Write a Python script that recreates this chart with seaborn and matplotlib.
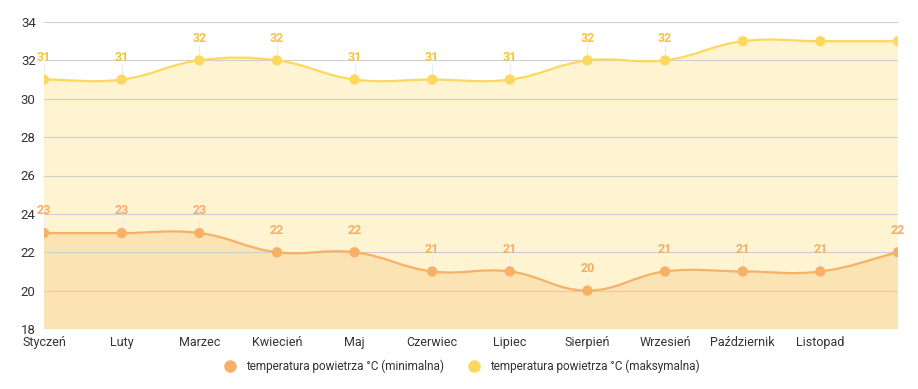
#
## plot.py
#
#  Monthly air temperature (min / max) as smooth filled area lines.
#

import numpy as np
import pandas as pd
import matplotlib.pyplot as plt
import seaborn as sns
from matplotlib.path import Path
from matplotlib.patches import PathPatch
from matplotlib.lines import Line2D

months = ['Styczeń', 'Luty', 'Marzec', 'Kwiecień', 'Maj', 'Czerwiec', 'Lipiec',
          'Sierpień', 'Wrzesień', 'Październik', 'Listopad', 'Grudzień']
temp_min = [23, 23, 23, 22, 22, 21, 21, 20, 21, 21, 21, 22]
temp_max = [31, 31, 32, 32, 31, 31, 31, 32, 32, 33, 33, 33]
label_min = 'temperatura powietrza °C (minimalna)'
label_max = 'temperatura powietrza °C (maksymalna)'

sns.set_style('white')
plt.rcParams['font.family'] = ['Roboto', 'DejaVu Sans']

fig = plt.figure(figsize=(9.18, 3.89), dpi=100)
ax = fig.add_axes([44 / 918, 60 / 389, 854 / 918, 307 / 389])
ax.set_xlim(0, 11)
ax.set_ylim(18, 34)

# pixel scale used for the spline tension (chart.js style)
sx = 854 / 11
sy = 307 / 16


def spline_path(xs, ys, tension=0.4, base=None):
    px = np.asarray(xs, float) * sx
    py = np.asarray(ys, float) * sy
    n = len(px)
    cp_prev = np.zeros((n, 2))
    cp_next = np.zeros((n, 2))
    for i in range(n):
        a = max(i - 1, 0)
        b = min(i + 1, n - 1)
        d01 = np.hypot(px[i] - px[a], py[i] - py[a])
        d12 = np.hypot(px[b] - px[i], py[b] - py[i])
        tot = d01 + d12
        s01 = d01 / tot if tot else 0
        s12 = d12 / tot if tot else 0
        dx, dy = px[b] - px[a], py[b] - py[a]
        cp_prev[i] = (px[i] - tension * s01 * dx, py[i] - tension * s01 * dy)
        cp_next[i] = (px[i] + tension * s12 * dx, py[i] + tension * s12 * dy)
    verts = [(px[0], py[0])]
    codes = [Path.MOVETO]
    for i in range(n - 1):
        verts += [tuple(cp_next[i]), tuple(cp_prev[i + 1]), (px[i + 1], py[i + 1])]
        codes += [Path.CURVE4] * 3
    verts = [(vx / sx, vy / sy) for vx, vy in verts]
    if base is not None:
        verts += [(xs[-1], base), (xs[0], base), (xs[0], ys[0])]
        codes += [Path.LINETO, Path.LINETO, Path.CLOSEPOLY]
    return Path(verts, codes)


x = np.arange(len(months))
c_min, c_max = '#f6b166', '#fdd85e'

# filled areas first (max behind min)
ax.add_patch(PathPatch(spline_path(x, temp_max, base=18), facecolor='#fef4d2', edgecolor='none', zorder=1))
ax.add_patch(PathPatch(spline_path(x, temp_min, base=18), facecolor='#fce3b4', edgecolor='none', zorder=1.1))

for axis_y in range(18, 35, 2):
    ax.axhline(axis_y, color='#cfcfcf', lw=0.8, zorder=1.5)

ax.add_patch(PathPatch(spline_path(x, temp_max), facecolor='none', edgecolor=c_max, lw=1.6, zorder=2))
ax.add_patch(PathPatch(spline_path(x, temp_min), facecolor='none', edgecolor=c_min, lw=1.6, zorder=2))

df = pd.DataFrame({
    'month': np.concatenate([x, x]),
    'temp': temp_min + temp_max,
    'series': [label_min] * len(x) + [label_max] * len(x),
})
sns.scatterplot(data=df, x='month', y='temp', hue='series',
                palette={label_min: c_min, label_max: c_max},
                s=55, edgecolor='none', legend=False, ax=ax, zorder=3)

# value labels with a faint leader line; hidden if they'd leave the chart
for vals, col in [(temp_max, '#f3c43c'), (temp_min, '#f5ae66')]:
    for xi, v in zip(x, vals):
        if v + 1.1 > 34:
            continue
        ax.plot([xi, xi], [v, v + 0.75], color='#ececec', lw=0.8, zorder=1.8)
        ax.text(xi, v + 1.15, str(v), ha='center', va='center', fontsize=9,
                fontweight='bold', color=col, zorder=4, clip_on=False)

ax.set_xticks(x)
# last label (Grudzień) is skipped in the original chart
ax.set_xticklabels(months[:-1] + [''], fontsize=9, color='#333333')
ax.set_yticks(range(18, 35, 2))
ax.tick_params(axis='y', labelsize=9.5, colors='#333333', length=0, pad=6)
ax.tick_params(axis='x', length=0, pad=5)
ax.set_xlabel('')
ax.set_ylabel('')
for sp in ax.spines.values():
    sp.set_visible(False)

handles = [
    Line2D([], [], marker='o', linestyle='none', markersize=8, color=c_min, label=label_min),
    Line2D([], [], marker='o', linestyle='none', markersize=8, color=c_max, label=label_max),
]
fig.legend(handles=handles, loc='center', bbox_to_anchor=(0.5, 1 - 366 / 389), ncol=2,
           frameon=False, fontsize=8.5, handletextpad=0.3, columnspacing=1.6,
           labelcolor='#333333')

plt.savefig('out.png', dpi=100)
plt.close()
